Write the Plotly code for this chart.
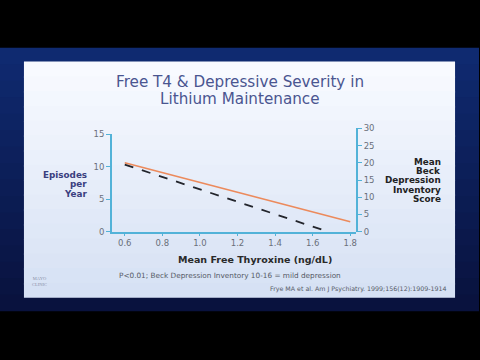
import plotly.graph_objects as go

# Data
free_t4 = [0.6, 1.8]
episodes_per_year = [10.6, 1.5]
free_t4_beck = [0.6, 1.68]
beck_score = [19.5, 0.0]

x_ticks = [0.6, 0.8, 1.0, 1.2, 1.4, 1.6, 1.8]
x_tick_labels = ["0.6", "0.8", "1.0", "1.2", "1.4", "1.6", "1.8"]
left_ticks = [0, 5, 10, 15]
right_ticks = [0, 5, 10, 15, 20, 25, 30]

title_lines = ["Free T4 &amp; Depressive Severity in", "Lithium Maintenance"]
left_title_lines = ["Episodes", "per", "Year"]
right_title_lines = ["Mean", "Beck", "Depression", "Inventory", "Score"]

W, H = 480, 360
def px(x): return x / W
def py(y): return 1 - y / H

AX = "#52b2d8"
FONT = "DejaVu Sans, Liberation Sans, sans-serif"
TICKF = dict(family=FONT, size=8.5, color="#6a6f7a")

def lerp(c0, c1, t):
    return "rgb(%d,%d,%d)" % tuple(round(a + (b - a) * t) for a, b in zip(c0, c1))

fig = go.Figure()
fig.add_trace(go.Scatter(x=free_t4, y=episodes_per_year, mode="lines",
                         line=dict(color="#ec8a5c", width=1.6), yaxis="y",
                         showlegend=False, hoverinfo="skip"))
fig.add_trace(go.Scatter(x=free_t4_beck, y=beck_score, mode="lines",
                         line=dict(color="#23252c", width=1.8, dash="dash"), yaxis="y2",
                         showlegend=False, hoverinfo="skip"))

shapes = []
n = 16
# blue frame gradient
f0, f1 = (15, 42, 112), (9, 18, 62)
top, bot = 44, 315
for i in range(n):
    a = top + (bot - top) * i / n
    b = min(bot, top + (bot - top) * (i + 1) / n + 2)
    shapes.append(dict(type="rect", xref="paper", yref="paper", x0=0, x1=1,
                       y0=py(b), y1=py(a), fillcolor=lerp(f0, f1, i / (n - 1)),
                       line=dict(width=0), layer="below"))
# slide gradient
s0, s1 = (248, 250, 255), (214, 225, 244)
top, bot = 58, 301
for i in range(n):
    a = top + (bot - top) * i / n
    b = min(bot, top + (bot - top) * (i + 1) / n + 2)
    shapes.append(dict(type="rect", xref="paper", yref="paper", x0=px(24), x1=px(456),
                       y0=py(b), y1=py(a), fillcolor=lerp(s0, s1, i / (n - 1)),
                       line=dict(width=0), layer="below"))

def ann(text, x, y, size, color, xanchor="center", family=FONT):
    return dict(text=text, x=px(x), y=py(y), xref="paper", yref="paper", showarrow=False,
                xanchor=xanchor, yanchor="middle", borderpad=0,
                font=dict(family=family, size=size, color=color))

annotations = []
for i, t in enumerate(title_lines):
    annotations.append(ann(t, 240, 79.5 + 17 * i, 15.2, "#4a5590"))
for i, t in enumerate(left_title_lines):
    annotations.append(ann("<b>%s</b>" % t, 88, 175 + 9.6 * i, 8.8, "#3a3f80", "right"))
for i, t in enumerate(right_title_lines):
    annotations.append(ann("<b>%s</b>" % t, 443, 161 + 9.6 * i, 8.8, "#222222", "right"))
annotations += [
    ann("<b>Mean Free Thyroxine (ng/dL)</b>", 256, 262, 9.5, "#2a2a2a"),
    ann("P&lt;0.01; Beck Depression Inventory 10-16 = mild depression", 230, 278, 7.3, "#555a66"),
    ann("Frye MA et al. Am J Psychiatry. 1999;156(12):1909-1914", 449, 292, 6.3, "#555a66", "right"),
    ann("MAYO<br>CLINIC", 40, 284, 4.5, "#8a90a8", family="Liberation Serif, serif"),
]

fig.update_layout(
    width=W, height=H, autosize=False,
    margin=dict(l=0, r=0, t=0, b=0),
    paper_bgcolor="#000000", plot_bgcolor="rgba(0,0,0,0)",
    shapes=shapes, annotations=annotations,
    xaxis=dict(domain=[px(112), px(357)], range=[0.531, 1.832], anchor="y",
               tickvals=x_ticks, ticktext=x_tick_labels, showgrid=False, zeroline=False,
               showline=True, linecolor=AX, linewidth=1.5, ticks="outside", ticklen=3,
               tickcolor=AX, tickfont=TICKF),
    yaxis=dict(domain=[py(233), py(133)], range=[0, 15], anchor="x", side="left",
               tickvals=left_ticks, showgrid=False, zeroline=False,
               showline=True, linecolor=AX, linewidth=1.5, ticks="outside", ticklen=4,
               tickcolor=AX, tickfont=TICKF),
    yaxis2=dict(domain=[py(233), py(127)], range=[0, 30], anchor="x", side="right",
                tickvals=right_ticks, showgrid=False, zeroline=False,
                showline=True, linecolor=AX, linewidth=1.5, ticks="outside", ticklen=4,
                tickcolor=AX, tickfont=TICKF),
)

fig.write_html("out.html", config={"displayModeBar": False},
               post_script="document.body.style.margin='0';document.body.style.overflow='hidden';")
